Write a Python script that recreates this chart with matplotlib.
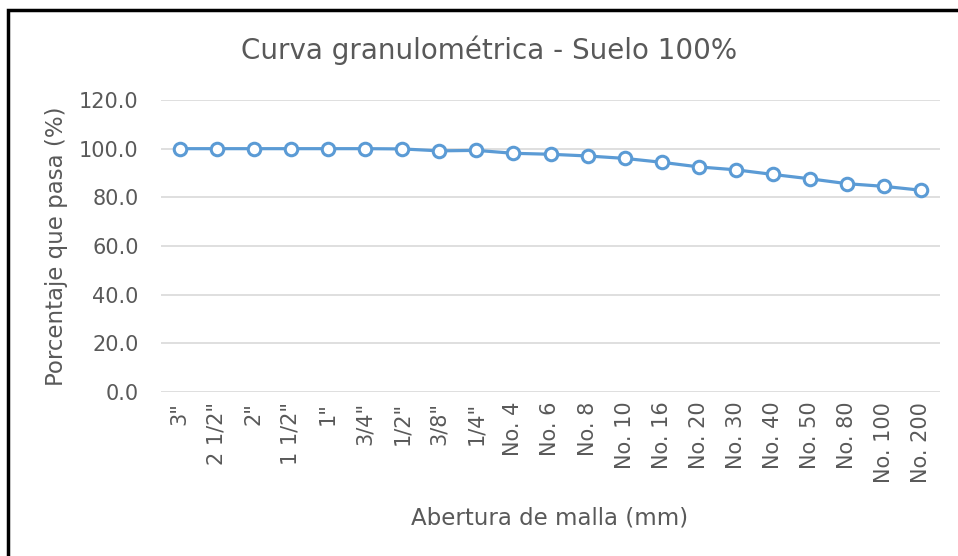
import numpy as np
import matplotlib.pyplot as plt
from matplotlib.patches import Rectangle

plt.rcParams['font.family'] = ['DejaVu Sans']

# sieve labels and percent passing
mallas = ['3"', '2 1/2"', '2"', '1 1/2"', '1"', '3/4"', '1/2"', '3/8"', '1/4"',
          'No. 4', 'No. 6', 'No. 8', 'No. 10', 'No. 16', 'No. 20', 'No. 30',
          'No. 40', 'No. 50', 'No. 80', 'No. 100', 'No. 200']
pasa = [100.0, 100.0, 100.0, 100.0, 100.0, 100.0, 99.9, 99.1, 99.3,
        98.1, 97.7, 97.0, 96.0, 94.4, 92.5, 91.3,
        89.4, 87.6, 85.6, 84.5, 82.9]
y_ticks = [0, 20, 40, 60, 80, 100, 120]

gris = '#595959'
azul = '#5B9BD5'

fig = plt.figure(figsize=(9.58, 5.56), dpi=100)
W, H = 958, 556
ax = fig.add_axes([161 / W, 1 - 392 / H, (940 - 161) / W, (392 - 100) / H])

x = np.arange(len(mallas))
ax.plot(x, pasa, color=azul, lw=2.3, marker='o', ms=9, mfc='white',
        mec=azul, mew=2.2, zorder=3, clip_on=False)

ax.set_xlim(-0.5, len(mallas) - 0.5)
ax.set_ylim(0, 120)
ax.set_yticks(y_ticks)
ax.set_yticklabels(['%.1f' % v for v in y_ticks])
ax.set_xticks(x)
ax.set_xticklabels(mallas, rotation=90)
ax.tick_params(length=0, colors=gris, labelsize=15)
ax.tick_params(axis='y', pad=16)
ax.tick_params(axis='x', pad=7)
ax.grid(axis='y', color='#D9D9D9', lw=1.2)
ax.set_axisbelow(True)
for s in ax.spines.values():
    s.set_visible(False)

ax.set_ylabel('Porcentaje que pasa (%)', color=gris, fontsize=16.5, labelpad=8)
fig.text(550 / W, 1 - 518 / H, 'Abertura de malla (mm)', ha='center',
         va='center', color=gris, fontsize=16.5)
fig.text(489 / W, 1 - 50 / H, 'Curva granulométrica - Suelo 100%',
         ha='center', va='center', color=gris, fontsize=20)

# chart border (only top and left visible in the screenshot)
fig.patches.append(Rectangle((8 / W, -0.1), 1.2, 1 - 10 / H + 0.1,
                             transform=fig.transFigure, fill=False,
                             ec='black', lw=2.5))

fig.savefig('out.png', dpi=100)
